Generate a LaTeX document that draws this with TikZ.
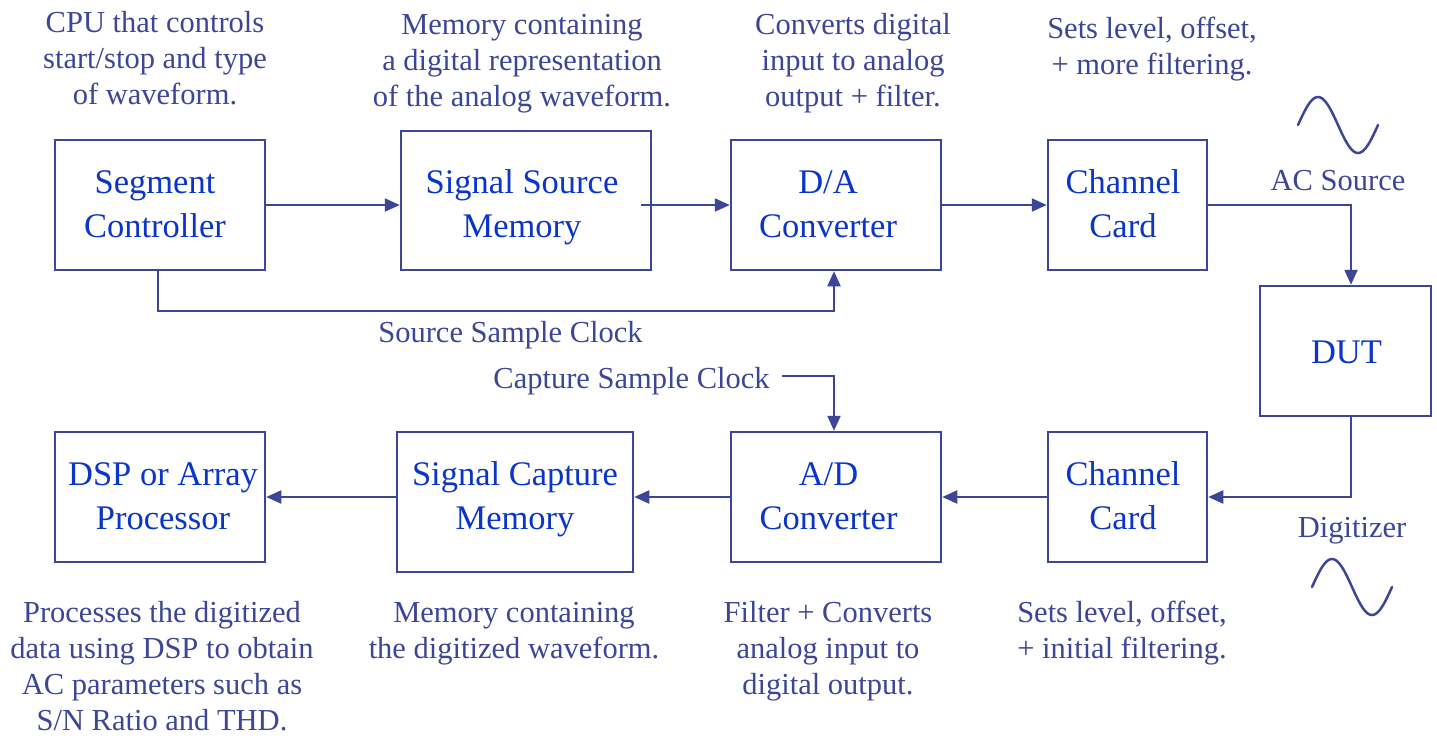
\documentclass[tikz,border=0pt]{standalone}
\usepackage{fontspec}
\setmainfont{Liberation Serif}
\usetikzlibrary{arrows.meta,calc}

\definecolor{linecol}{HTML}{3C4696}
\definecolor{notecol}{HTML}{3C4696}
\definecolor{blockcol}{HTML}{0A35C8}

% centred lines whose baseline is the baseline of the first line
\newcommand\textlines[1]{\begin{tabular}[t]{@{}c@{}}#1\end{tabular}}

\tikzset{
  block/.style={draw=linecol, line width=2.5pt, inner sep=0pt, fill=white},
  blocktext/.style={text=blockcol, font=\fontsize{34.5}{44}\selectfont, anchor=base, inner sep=0pt},
  note/.style={text=notecol, font=\fontsize{30.5}{36}\selectfont, anchor=base, inner sep=0pt},
  flow/.style={draw=linecol, line width=2.2pt, -{Triangle[length=15pt,width=13pt]}},
  wave/.style={draw=linecol, line width=2.5pt, line cap=round},
}

\begin{document}
\begin{tikzpicture}[x=1pt, y=-1pt]
\fill[white] (0,0) rectangle (1437,740);
\useasboundingbox (0,0) rectangle (1437,740);

% ---- blocks ----
\node[block, minimum width=210, minimum height=130] (seg) at (160,205) {};
\node[block, minimum width=250, minimum height=139] (ssm) at (526,200.5) {};
\node[block, minimum width=210, minimum height=130] (da)  at (836,205) {};
\node[block, minimum width=159, minimum height=130] (cc1) at (1127.5,205) {};
\node[block, minimum width=171, minimum height=130] (dut) at (1345.5,351) {};
\node[block, minimum width=159, minimum height=130] (cc2) at (1127.5,497) {};
\node[block, minimum width=210, minimum height=130] (ad)  at (836,497) {};
\node[block, minimum width=236, minimum height=140] (scm) at (515,502) {};
\node[block, minimum width=210, minimum height=130] (dsp) at (160,497) {};

% ---- block captions ----
\node[blocktext] (segT) at (155,193)    {\textlines{Segment\\Controller}};
\node[blocktext] (ssmT) at (522,193)    {\textlines{Signal Source\\Memory}};
\node[blocktext] (daT)  at (828,193)    {\textlines{D/A\\Converter}};
\node[blocktext] (cc1T) at (1123,193)   {\textlines{Channel\\Card}};
\node[blocktext] (dutT) at (1346.5,363) {DUT};
\node[blocktext] (cc2T) at (1123,485)   {\textlines{Channel\\Card}};
\node[blocktext] (adT)  at (828.5,485)  {\textlines{A/D\\Converter}};
\node[blocktext] (scmT) at (515,485)    {\textlines{Signal Capture\\Memory}};
\node[blocktext] (dspT) at (163,485)    {\textlines{DSP or Array\\Processor}};

% ---- notes ----
\node[note] (n1) at (155,32)   {\textlines{CPU that controls\\start/stop and type\\of waveform.}};
\node[note] (n2) at (522,34)   {\textlines{Memory containing\\a digital representation\\of the analog waveform.}};
\node[note] (n3) at (853,34)   {\textlines{Converts digital\\input to analog\\output + filter.}};
\node[note] (n4) at (1152,38)  {\textlines{Sets level, offset,\\+ more filtering.}};
\node[note] (acs) at (1338,190) {AC Source};
\node[note] (dig) at (1352,537) {Digitizer};
\node[note] (ssc) at (510.5,342) {Source Sample Clock};
\node[note] (csc) at (631.5,388) {Capture Sample Clock};
\node[note] (n5) at (162,622)  {\textlines{Processes the digitized\\data using DSP to obtain\\AC parameters such as\\S/N Ratio and THD.}};
\node[note] (n6) at (514,622)  {\textlines{Memory containing\\the digitized waveform.}};
\node[note] (n7) at (828,622)  {\textlines{Filter + Converts\\analog input to\\digital output.}};
\node[note] (n8) at (1122,622) {\textlines{Sets level, offset,\\+ initial filtering.}};

% ---- source path ----
\draw[flow] (seg.east) -- (seg.east -| ssm.west);
\draw[flow] ($(ssm.east |- da.west)+(-11,0)$) -- (da.west);
\draw[flow] (da.east) -- (cc1.west);
\draw[flow] (cc1.east) -| ([xshift=5.5pt]dut.north);
\draw[flow] ([xshift=-2pt]seg.south) -- ++(0,40) -| ([xshift=-2pt]da.south);

% ---- capture path ----
\draw[flow] ([xshift=5.5pt]dut.south) |- (cc2.east);
\draw[flow] (cc2.west) -- (ad.east);
\draw[flow] (ad.west) -- (ad.west -| scm.east);
\draw[flow] (dsp.east -| scm.west) -- (dsp.east);
\coordinate (cscStart) at (782,376);
\draw[flow] (cscStart) -| ([xshift=-2pt]ad.north);

% ---- sine symbols ----
\draw[wave] plot[domain=0:360, samples=73, smooth] ({1298+\x/360*80}, {125-28*sin(\x)});
\draw[wave] plot[domain=0:360, samples=73, smooth] ({1312+\x/360*80}, {587-28*sin(\x)});
\end{tikzpicture}
\end{document}
